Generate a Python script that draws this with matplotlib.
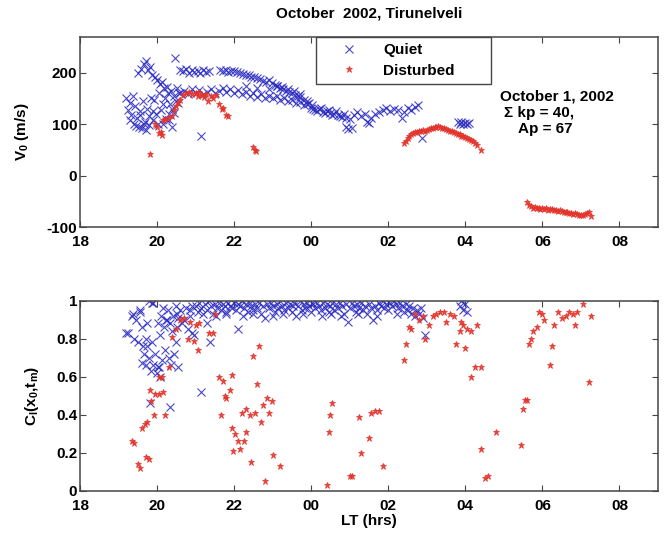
import matplotlib
matplotlib.use("Agg")
import matplotlib.pyplot as plt
from matplotlib.ticker import FixedLocator

plt.rcParams['font.family'] = ['Liberation Sans', 'DejaVu Sans']
plt.rcParams['font.weight'] = 'bold'
plt.rcParams['mathtext.fontset'] = 'custom'
plt.rcParams['mathtext.rm'] = 'Liberation Sans:bold'
plt.rcParams['mathtext.it'] = 'Liberation Sans:bold'
plt.rcParams['mathtext.bf'] = 'Liberation Sans:bold'

# ---------------- data (LT in hours; values after midnight are 24+h) -------------
title_text = "October  2002, Tirunelveli"
xtick_pos = [18, 20, 22, 24, 26, 28, 30, 32]
xtick_labels = ['18', '20', '22', '00', '02', '04', '06', '08']
v_ticks = [-100, 0, 100, 200]
c_ticks = [0, 0.2, 0.4, 0.6, 0.8, 1.0]
c_tick_labels = ['0', '0.2', '0.4', '0.6', '0.8', '1']
annot_lines = ["October 1, 2002", "\u03a3 kp = 40,", "Ap = 67"]

# Top panel: quiet drift velocity V0 (m/s)
quiet_v_lt = [
    19.2, 19.25, 19.3, 19.33, 19.38, 19.4, 19.43, 19.47, 19.5, 19.52, 19.55, 19.58, 19.6, 19.63,
    19.66, 19.68, 19.7, 19.72, 19.74, 19.77, 19.78, 19.8, 19.82, 19.85, 19.87, 19.9, 19.92, 19.95,
    19.97, 20.0, 20.02, 20.05, 20.08, 20.1, 20.12, 20.15, 20.18, 20.2, 20.22, 20.25, 20.28, 20.3,
    20.33, 20.36, 20.38, 20.4, 20.43, 20.45, 20.47, 20.5, 20.52, 20.55, 20.58,
    19.3, 19.45, 19.55, 19.65, 19.9, 20.15, 20.3,
    20.6, 20.68, 20.75, 20.82, 20.9, 20.97, 21.05, 21.12, 21.2, 21.28, 21.35,
    21.62, 21.7, 21.78, 21.85, 21.93, 22.0, 22.08, 22.15, 22.22, 22.3, 22.38, 22.45, 22.52, 22.6,
    22.68, 22.75, 22.82, 22.9, 22.97, 23.05, 23.12, 23.2, 23.28, 23.35, 23.42, 23.5, 23.58, 23.65,
    23.72, 23.8, 23.88, 23.95, 24.02,
    20.6, 20.7, 20.8, 20.9, 21.0, 21.1, 21.2, 21.3, 21.4, 21.5, 21.6, 21.7, 21.8, 21.9, 22.0, 22.1,
    22.2, 22.3, 22.4, 22.5, 22.6, 22.7, 22.8, 22.9, 23.0, 23.1, 23.2, 23.3, 23.4, 23.5, 23.6, 23.7,
    23.8, 23.9, 24.0, 24.1, 24.2, 24.3, 24.4, 24.5, 24.6, 24.7, 24.8, 24.9,
    22.3, 22.6, 22.9, 23.1, 23.25, 23.4, 23.55, 23.7,
    24.05, 24.15, 24.25, 24.35, 24.45, 24.55, 24.65, 24.75, 24.85, 24.9, 24.95, 25.0, 25.05, 25.1,
    25.2, 25.3, 25.4, 25.45, 25.5, 25.55, 25.65, 25.75, 25.85, 25.95, 26.05, 26.15, 26.25, 26.35,
    26.4, 26.5, 26.6, 26.7, 26.78, 26.87, 21.15,
    27.8, 27.85, 27.9, 27.95, 28.0, 28.05, 28.1,
]
quiet_v = [
    150, 128, 142, 118, 155, 100, 135, 112, 199, 95, 125, 208, 92, 145,
    218, 105, 222, 88, 130, 205, 115, 98, 212, 150, 195, 108, 147, 192,
    120, 185, 100, 160, 178, 128, 183, 140, 170, 150, 110, 173, 160, 108,
    140, 165, 95, 130, 155, 122, 228, 145, 170, 141, 160,
    108, 96, 118, 100, 125, 100, 120,
    205, 203, 207, 200, 206, 202, 204, 199, 205, 201, 203,
    205, 203, 206, 202, 204, 203, 201, 199, 198, 196, 196, 192, 192, 189,
    187, 184, 183, 186, 180, 176, 174, 170, 168, 165, 162, 160, 157, 155,
    152, 148, 145, 142, 137,
    160, 165, 158, 168, 160, 166, 158, 163, 168, 160, 165, 170, 162, 168, 160, 166,
    158, 163, 155, 160, 152, 158, 150, 155, 150, 154, 147, 151, 146, 148, 141, 144,
    138, 140, 132, 128, 130, 124, 126, 122, 120, 118, 114, 112,
    175, 170, 168, 175, 172, 168, 165, 158,
    130, 126, 132, 122, 128, 118, 125, 115, 120, 95, 90, 110, 92, 118,
    124, 116, 120, 105, 102, 112, 120, 124, 128, 131, 126, 130, 128, 112,
    124, 131, 127, 134, 137, 73, 77,
    104, 100, 104, 101, 103, 100, 102,
]

# Top panel: disturbed drift velocity V0 (m/s)
dist_v_lt = [
    19.82, 19.95, 20.0, 20.05, 20.12, 20.1, 20.15, 20.2, 20.28, 20.38, 20.45, 20.5, 20.55, 20.6,
    20.68, 20.75, 20.82, 20.9, 21.0, 21.05, 21.1, 21.16, 21.22, 21.28, 21.33, 21.4, 21.46, 21.52,
    21.6, 21.68, 21.72, 21.8, 21.84, 22.5, 22.55, 22.58,
    26.4, 26.45, 26.5, 26.55, 26.6, 26.65, 26.7, 26.75, 26.8, 26.85, 26.9, 26.96, 27.0, 27.05,
    27.1, 27.15, 27.2, 27.25, 27.3, 27.35, 27.4, 27.45, 27.5, 27.55, 27.6, 27.65, 27.7, 27.75,
    27.8, 27.85, 27.9, 27.95, 28.0, 28.05, 28.1, 28.15, 28.2, 28.25, 28.3, 28.4,
    29.6, 29.65, 29.7, 29.75, 29.8, 29.85, 29.9, 29.95, 30.0, 30.05, 30.1, 30.15, 30.2, 30.25,
    30.3, 30.35, 30.4, 30.45, 30.5, 30.55, 30.6, 30.65, 30.7, 30.75, 30.8, 30.85, 30.9, 30.95,
    31.0, 31.05, 31.1, 31.15, 31.2, 31.25,
]
dist_v = [
    42, 100, 95, 83, 79, 85, 108, 110, 112, 115, 128, 135, 141, 148,
    157, 160, 162, 158, 160, 155, 162, 157, 152, 158, 146, 155, 150, 156,
    140, 130, 131, 118, 115, 55, 50, 47,
    63, 68, 73, 77, 80, 82, 84, 85, 87, 86, 88, 86, 89, 90,
    92, 93, 94, 95, 96, 95, 93, 92, 90, 88, 87, 86, 84, 83,
    81, 80, 78, 77, 76, 74, 72, 70, 67, 64, 60, 50,
    -52, -58, -60, -62, -61, -63, -62, -64, -63, -65, -63, -66, -64, -65,
    -67, -66, -68, -67, -69, -70, -71, -70, -72, -73, -74, -73, -75, -76,
    -77, -76, -75, -73, -70, -78,
]

# Bottom panel: quiet correlation C_l(x0, t_m)
quiet_c_lt = [
    19.2, 19.25, 19.35, 19.38, 19.4, 19.45, 19.5, 19.55, 19.56, 19.6, 19.62, 19.64, 19.65, 19.7,
    19.72, 19.73, 19.75, 19.8, 19.8, 19.82, 19.85, 19.86, 19.88, 19.9, 19.9, 19.95, 20.0, 20.02,
    20.03, 20.05, 20.08, 20.08, 20.1, 20.12, 20.15, 20.18, 20.2, 20.22, 20.25, 20.28, 20.3, 20.33,
    20.34, 20.35, 20.38, 20.42, 20.45, 20.48, 20.5, 20.51, 20.52, 20.55, 20.55, 20.6, 20.65, 20.7,
    20.75, 20.8, 20.85, 20.86, 20.9, 20.9, 20.95, 21.15, 21.29, 21.38, 22.11,
    21.0, 21.05, 21.1, 21.15, 21.2, 21.25, 21.3, 21.35, 21.4, 21.45, 21.5, 21.55, 21.6, 21.65,
    21.7, 21.75, 21.8, 21.85, 21.9, 21.95, 22.0, 22.05, 22.1, 22.15, 22.2, 22.25, 22.3, 22.35,
    22.4, 22.45, 22.5, 22.55, 22.6, 22.65, 22.7, 22.75, 22.8, 22.85, 22.9, 22.95, 23.0, 23.05,
    23.1, 23.15, 23.2, 23.25, 23.3, 23.35, 23.4, 23.45, 23.5, 23.55, 23.6, 23.65, 23.7, 23.75,
    23.8, 23.85, 23.9, 23.95, 24.0, 24.05, 24.1, 24.15, 24.2, 24.25, 24.3, 24.35, 24.4, 24.45,
    24.5, 24.55, 24.6, 24.65, 24.7, 24.75, 24.8, 24.85, 24.9, 24.95, 25.0, 25.05, 25.1, 25.15,
    25.2, 25.25, 25.3, 25.35, 25.4, 25.45, 25.5, 25.55, 25.6, 25.65, 25.7, 25.75, 25.8, 25.85,
    25.9, 25.95, 26.0, 26.05, 26.1, 26.15, 26.2, 26.25, 26.3, 26.35, 26.4, 26.45, 26.5, 26.55,
    26.6, 26.65, 26.7, 26.75, 26.8, 26.85, 26.9, 26.95,
    21.52, 21.78, 22.22, 22.48, 23.02, 23.28, 23.52, 23.78, 24.02, 24.28, 24.52, 24.78, 25.22,
    25.72, 26.22,
    27.85, 27.9, 27.95, 28.0, 28.05,
]
quiet_c = [
    0.83, 0.83, 0.92, 0.93, 0.80, 0.90, 0.78, 0.95, 0.94, 0.67, 0.86, 0.76, 0.72, 0.80,
    0.66, 0.88, 0.76, 1.00, 0.70, 0.46, 0.63, 0.99, 0.78, 0.99, 0.66, 0.72, 0.62, 0.88,
    0.65, 0.65, 0.82, 0.60, 0.92, 0.69, 0.96, 0.86, 0.74, 0.90, 0.90, 0.95, 0.70, 0.88,
    0.44, 0.66, 0.84, 0.92, 0.72, 0.78, 0.97, 0.93, 0.86, 0.91, 0.65, 0.95, 0.88, 0.90,
    0.96, 0.85, 0.92, 0.95, 0.97, 0.83, 0.82, 0.52, 0.88, 0.78, 0.85,
    0.97, 0.94, 0.99, 0.96, 0.93, 0.98, 0.95, 1.00, 0.97, 0.93, 0.98, 0.96, 0.99, 0.95,
    0.98, 0.97, 0.94, 0.99, 0.97, 0.96, 0.99, 0.95, 0.98, 0.97, 1.00, 0.96, 0.98, 0.94,
    0.99, 0.97, 0.95, 0.98, 0.96, 0.99, 0.93, 0.97, 0.91, 0.98, 0.96, 0.99, 0.97, 0.94,
    0.98, 0.96, 1.00, 0.97, 0.95, 0.99, 0.96, 0.98, 0.94, 0.99, 0.92, 0.97, 1.00, 0.95,
    0.98, 0.96, 0.99, 0.97, 0.94, 0.98, 0.96, 0.99, 0.97, 0.95, 0.99, 0.96, 0.98, 0.94,
    0.97, 0.99, 0.95, 0.98, 0.96, 0.99, 0.97, 0.93, 0.98, 0.89, 0.96, 0.99, 0.97, 0.94,
    0.98, 0.96, 0.99, 0.95, 0.97, 0.93, 0.98, 0.96, 0.90, 0.97, 0.95, 0.99, 0.97, 1.00,
    0.96, 0.98, 0.95, 0.99, 0.97, 1.00, 0.98, 0.96, 0.99, 0.97, 0.94, 0.98, 0.95, 0.97,
    0.93, 0.96, 0.92, 0.95, 0.93, 0.96, 0.91, 0.82,
    0.92, 0.93, 0.92, 0.93, 0.92, 0.93, 0.97, 0.93, 0.99, 0.92, 0.93, 0.92, 0.93,
    0.92, 0.93,
    0.97, 1.00, 0.95, 0.98, 0.94,
]

# Bottom panel: disturbed correlation C_l(x0, t_m)
dist_c_lt = [
    19.35, 19.4, 19.5, 19.55, 19.6, 19.68, 19.75, 19.72, 19.8, 19.82, 19.85, 19.92, 19.95, 20.05,
    20.15, 20.2, 20.05, 20.12, 20.3, 20.4, 20.5, 20.6, 20.7, 20.85, 20.8, 20.95, 21.05, 21.0,
    21.1, 21.35, 21.45, 21.5, 21.6, 21.7, 21.75, 21.8, 21.9, 21.95, 21.65, 21.95, 22.02, 22.1,
    21.97, 22.15, 22.2, 22.3, 22.4, 22.25, 22.32, 22.45, 22.5, 22.55, 22.6, 22.65, 22.7, 22.75,
    22.85, 22.9, 22.98, 22.8, 23.0, 23.2,
    24.4, 24.45, 24.5, 24.55, 25.0, 25.05, 25.25, 25.3, 25.5, 25.55, 25.65, 25.75, 25.85,
    26.4, 26.45, 26.55, 26.6, 26.7, 26.8, 26.9, 26.95, 27.05, 27.15, 27.25, 27.35, 27.45, 27.5,
    27.6, 27.7, 27.75, 27.85, 27.9, 27.95, 28.0, 28.05, 28.15, 28.3, 28.15, 28.25, 28.4,
    28.4, 28.5, 28.6, 28.8,
    29.45, 29.5, 29.55, 29.6, 29.65, 29.7, 29.75, 29.85, 29.9, 30.0, 30.05, 30.2, 30.25, 30.3,
    30.4, 30.5, 30.6, 30.7, 30.8, 30.85, 30.9, 31.05, 31.2, 31.25,
]
dist_c = [
    0.26, 0.25, 0.14, 0.12, 0.33, 0.35, 0.36, 0.18, 0.17, 0.53, 0.47, 0.40, 0.51, 0.51,
    0.52, 0.40, 0.60, 0.60, 0.65, 0.81, 0.85, 0.90, 0.91, 0.89, 0.80, 0.79, 0.74, 0.87,
    0.88, 0.83, 0.83, 0.93, 0.60, 0.58, 0.50, 0.49, 0.53, 0.61, 0.40, 0.33, 0.30, 0.26,
    0.21, 0.22, 0.41, 0.43, 0.40, 0.26, 0.31, 0.15, 0.71, 0.41, 0.56, 0.76, 0.36, 0.45,
    0.49, 0.41, 0.47, 0.05, 0.19, 0.13,
    0.03, 0.31, 0.40, 0.46, 0.08, 0.08, 0.39, 0.20, 0.28, 0.41, 0.42, 0.42, 0.13,
    0.69, 0.77, 0.86, 0.85, 0.93, 0.90, 0.92, 0.80, 0.87, 0.92, 0.93, 0.94, 0.94, 0.89,
    0.93, 0.92, 0.77, 0.84, 0.89, 0.87, 0.75, 0.85, 0.84, 0.87, 0.60, 0.65, 0.65,
    0.22, 0.07, 0.08, 0.31,
    0.24, 0.43, 0.48, 0.48, 0.77, 0.80, 0.84, 0.86, 0.94, 0.93, 0.90, 0.66, 0.76, 0.87,
    0.94, 0.91, 0.92, 0.94, 0.93, 0.87, 0.94, 0.98, 0.57, 0.92,
]

# ---------------- styling -------------
quiet_color = '#2828c0'
dist_color = '#e3342b'
frame_color = '#454545'

fig = plt.figure(figsize=(6.64, 5.33), dpi=100)
ax1 = fig.add_axes([0.1205, 0.574, 0.8705, 0.357])
ax2 = fig.add_axes([0.1205, 0.079, 0.8705, 0.357])

for ax in (ax1, ax2):
    ax.set_xlim(18, 33)
    ax.xaxis.set_major_locator(FixedLocator(xtick_pos))
    ax.set_xticklabels(xtick_labels)
    ax.tick_params(direction='in', length=4, width=0.8, color=frame_color,
                   top=True, right=True, labelsize=11)
    ax.tick_params(axis='x', pad=5.5)
    ax.tick_params(axis='y', pad=2)
    for lbl in ax.get_xticklabels() + ax.get_yticklabels():
        lbl.set_fontweight('bold')
    for s in ax.spines.values():
        s.set_color(frame_color)
        s.set_linewidth(1.1)

ax1.plot(quiet_v_lt, quiet_v, linestyle='none', marker='x', markersize=5.5,
         markeredgewidth=0.8, color=quiet_color, alpha=0.85, label='Quiet')
ax1.plot(dist_v_lt, dist_v, linestyle='none', marker='*', markersize=5,
         markeredgewidth=0.6, color=dist_color, alpha=0.9, label='Disturbed')
ax1.set_ylim(-100, 270)
ax1.set_yticks(v_ticks)
ax1.set_yticklabels([str(v) for v in v_ticks], fontweight='bold')
ax1.set_ylabel('V$_0$ (m/s)', fontsize=11, fontweight='bold', labelpad=11)
ax1.set_title(title_text, fontsize=11, fontweight='bold', pad=14)

leg = ax1.legend(loc='upper left', bbox_to_anchor=(0.408, 0.73, 0.303, 0.27),
                 mode='expand', fancybox=False, framealpha=1, borderpad=0.4,
                 handlelength=3.5, handletextpad=0.5, labelspacing=0.45,
                 prop={'weight': 'bold', 'size': 11}, borderaxespad=0)
leg.get_frame().set_edgecolor(frame_color)
leg.get_frame().set_linewidth(1.0)

ax1.text(0.727, 0.684, annot_lines[0], transform=ax1.transAxes, fontsize=11,
         fontweight='bold', va='center', ha='left')
ax1.text(0.734, 0.600, annot_lines[1], transform=ax1.transAxes, fontsize=11,
         fontweight='bold', va='center', ha='left')
ax1.text(0.758, 0.516, annot_lines[2], transform=ax1.transAxes, fontsize=11,
         fontweight='bold', va='center', ha='left')

ax2.plot(quiet_c_lt, quiet_c, linestyle='none', marker='x', markersize=5.5,
         markeredgewidth=0.8, color=quiet_color, alpha=0.85)
ax2.plot(dist_c_lt, dist_c, linestyle='none', marker='*', markersize=5,
         markeredgewidth=0.6, color=dist_color, alpha=0.9)
ax2.set_ylim(0, 1)
ax2.set_yticks(c_ticks)
ax2.set_yticklabels(c_tick_labels, fontweight='bold')
ax2.set_ylabel('C$_l$(x$_0$,t$_m$)', fontsize=11, fontweight='bold', labelpad=11)
ax2.set_xlabel('LT (hrs)', fontsize=11, fontweight='bold', labelpad=1)

fig.savefig('out.png', dpi=100)
